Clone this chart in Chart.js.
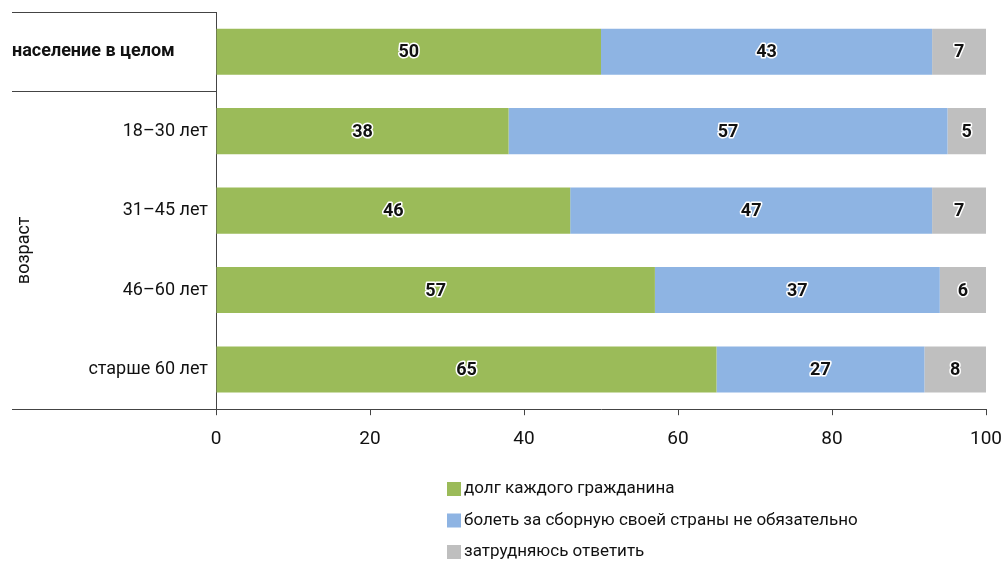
<!DOCTYPE html>
<html lang="ru">
<head>
	<meta charset="UTF-8">
	<title>Болеть за сборную</title>
	<script src="https://cdn.jsdelivr.net/npm/chart.js"></script>
	<style>
		body { margin: 0; background: #fff; }
		#wrap { width: 1005px; height: 563px; }
	</style>
</head>
<body>
	<div id="wrap"><canvas id="myChart" width="1005" height="563"></canvas></div>

	<script>
		// data
		const categories = ['население в целом', '18–30 лет', '31–45 лет', '46–60 лет', 'старше 60 лет'];
		const duty = [50, 38, 46, 57, 65];
		const notRequired = [43, 57, 47, 37, 27];
		const dontKnow = [7, 5, 7, 6, 8];
		const seriesNames = ['долг каждого гражданина', 'болеть за сборную своей страны не обязательно', 'затрудняюсь ответить'];
		const xTicks = [0, 20, 40, 60, 80, 100];
		const groupLabel = 'возраст';

		const colors = ['#9BBB59', '#8EB4E3', '#BFBFBF'];
		const fontFam = 'Roboto, "Noto Sans", sans-serif';
		const textColor = '#111';
		const lineColor = '#444';
		const panelLeft = 12;

		// left panel, value labels and legend
		const decor = {
			id: 'decor',
			afterDatasetsDraw(chart) {
				const c = chart.ctx;

				// value labels with white halo
				c.save();
				c.font = 'bold 18px ' + fontFam;
				c.textAlign = 'center';
				c.textBaseline = 'middle';
				c.lineJoin = 'round';
				chart.data.datasets.forEach((ds, di) => {
					chart.getDatasetMeta(di).data.forEach((bar, i) => {
						const x = (bar.x + bar.base) / 2;
						const txt = String(ds.data[i]);
						c.strokeStyle = '#fff';
						c.lineWidth = 3;
						c.strokeText(txt, x, bar.y + 1);
						c.fillStyle = textColor;
						c.fillText(txt, x, bar.y + 1);
					});
				});
				c.restore();
			},
			afterDraw(chart) {
				const c = chart.ctx;
				const yS = chart.scales.y;
				const area = chart.chartArea;
				const step = yS.getPixelForValue(1) - yS.getPixelForValue(0);

				c.save();
				// separator lines in the label panel
				c.strokeStyle = lineColor;
				c.lineWidth = 1;
				const lines = [area.top, yS.getPixelForValue(0) + step / 2, area.bottom];
				lines.forEach(y => {
					c.beginPath();
					c.moveTo(panelLeft, Math.round(y) + 0.5);
					c.lineTo(area.left, Math.round(y) + 0.5);
					c.stroke();
				});

				// category labels
				c.fillStyle = textColor;
				c.textBaseline = 'middle';
				categories.forEach((cat, i) => {
					const y = yS.getPixelForValue(i);
					if (i === 0) {
						c.font = 'bold 18px ' + fontFam;
						c.textAlign = 'left';
						c.fillText(cat, panelLeft, y);
					} else {
						c.font = '18px ' + fontFam;
						c.textAlign = 'right';
						c.fillText(cat, area.left - 8, y);
					}
				});

				// rotated group label
				const gy = (yS.getPixelForValue(1) + yS.getPixelForValue(categories.length - 1)) / 2;
				c.save();
				c.translate(panelLeft + 12, gy);
				c.rotate(-Math.PI / 2);
				c.font = '18px ' + fontFam;
				c.textAlign = 'center';
				c.fillText(groupLabel, 0, 0);
				c.restore();

				// legend
				const lx = 447, ly0 = 489, gap = 31.5;
				chart.data.datasets.forEach((ds, i) => {
					const y = ly0 + i * gap;
					c.fillStyle = ds.backgroundColor;
					c.fillRect(lx, y - 7, 14, 14);
					c.fillStyle = textColor;
					c.font = '17px ' + fontFam;
					c.textAlign = 'left';
					c.fillText(ds.label, lx + 17, y);
				});
				c.restore();
			}
		};

		new Chart(document.getElementById('myChart'), {
			type: 'bar',
			data: {
				labels: categories,
				datasets: [
					{ label: seriesNames[0], data: duty, backgroundColor: colors[0] },
					{ label: seriesNames[1], data: notRequired, backgroundColor: colors[1] },
					{ label: seriesNames[2], data: dontKnow, backgroundColor: colors[2] }
				]
			},
			options: {
				indexAxis: 'y',
				responsive: false,
				animation: false,
				categoryPercentage: 1,
				barPercentage: 0.58,
				layout: { padding: { left: 208, top: 12, right: 19, bottom: 99 } },
				plugins: { legend: { display: false }, tooltip: { enabled: false } },
				scales: {
					x: {
						stacked: true,
						min: 0,
						max: 100,
						afterBuildTicks: axis => { axis.ticks = xTicks.map(v => ({ value: v })); },
						afterFit: axis => { axis.paddingLeft = 0; axis.paddingRight = 0; },
						grid: { drawOnChartArea: false, drawTicks: true, tickLength: 6, color: lineColor },
						border: { display: true, color: lineColor, width: 1 },
						ticks: { padding: 13, color: textColor, font: { family: fontFam, size: 19 } }
					},
					y: {
						stacked: true,
						grid: { display: false },
						border: { display: true, color: lineColor, width: 1 },
						ticks: { display: false }
					}
				}
			},
			plugins: [decor]
		});
	</script>
</body>
</html>
